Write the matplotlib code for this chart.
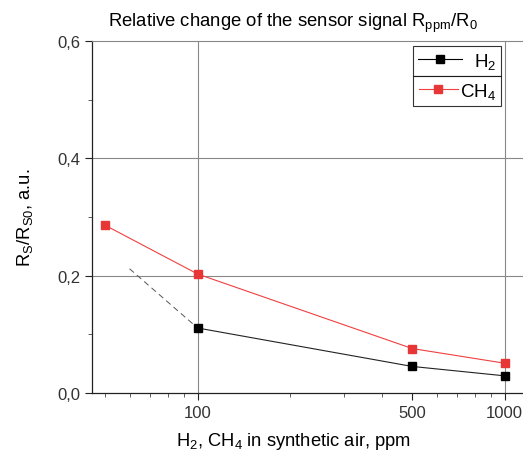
import matplotlib
matplotlib.use("Agg")
import matplotlib.pyplot as plt
from matplotlib.ticker import FixedLocator, FuncFormatter, NullFormatter
from matplotlib.lines import Line2D

plt.rcParams['font.family'] = ['Liberation Sans', 'DejaVu Sans']
plt.rcParams['mathtext.fontset'] = 'custom'
plt.rcParams['mathtext.rm'] = 'Liberation Sans'
plt.rcParams['mathtext.it'] = 'Liberation Sans'

conc_ch4 = [50, 100, 500, 1000]
ch4 = [0.286, 0.203, 0.076, 0.051]
conc_h2 = [100, 500, 1000]
h2 = [0.111, 0.0455, 0.0295]
h2_extrap_x = [60, 100]
h2_extrap_y = [0.212, 0.111]
xticks = [100, 500, 1000]
yticks = [0.0, 0.2, 0.4, 0.6]

fig = plt.figure(figsize=(5.23, 4.52), dpi=100)
ax = fig.add_axes([0.176, 0.128, 0.83, 0.779])

ax.plot(conc_ch4, ch4, color='#f04040', lw=0.8, marker='s', ms=5.3,
        mfc='#e83535', mec='#e83535', label='CH$_4$', zorder=3)
ax.plot(conc_h2, h2, color='#222222', lw=0.8, marker='s', ms=5.3,
        mfc='black', mec='black', label='H$_2$', zorder=3)
ax.plot(h2_extrap_x, h2_extrap_y, color='#555555', lw=0.7,
        ls=(0, (6, 4)), zorder=2)

ax.set_xscale('log')
ax.set_xlim(45.3, 1175)
ax.set_ylim(0, 0.6)

ax.xaxis.set_major_locator(FixedLocator(xticks))
ax.xaxis.set_major_formatter(FuncFormatter(lambda v, p: f"{int(v)}"))
ax.xaxis.set_minor_locator(FixedLocator([50, 60, 70, 80, 90, 200, 300, 400, 600, 700, 800, 900]))
ax.xaxis.set_minor_formatter(NullFormatter())
ax.yaxis.set_major_locator(FixedLocator(yticks))
ax.yaxis.set_major_formatter(FuncFormatter(lambda v, p: f"{v:.1f}".replace('.', ',')))
ax.yaxis.set_minor_locator(FixedLocator([0.1, 0.3, 0.5]))

ax.tick_params(axis='both', which='major', direction='out', length=5, width=0.8,
               color='#222222', labelsize=12, labelcolor='#333333')
ax.tick_params(axis='both', which='minor', direction='out', length=3, width=0.6,
               color='#444444')

ax.spines['right'].set_visible(False)
ax.spines['top'].set_color('#888888')
ax.spines['top'].set_linewidth(0.8)
for s in ['left', 'bottom']:
    ax.spines[s].set_color('#222222')
    ax.spines[s].set_linewidth(0.9)

for x in [100, 1000]:
    ax.axvline(x, color='#888888', lw=0.8, zorder=1)
for y in [0.2, 0.4]:
    ax.axhline(y, color='#888888', lw=0.8, zorder=1)

ax.set_title('Relative change of the sensor signal R$_{ppm}$/R$_0$', fontsize=13.3, pad=11, x=0.464)
ax.set_xlabel('H$_2$, CH$_4$ in synthetic air, ppm', fontsize=13.2, labelpad=7)
ax.xaxis.set_label_coords(0.464, -0.105)
ax.set_ylabel('R$_S$/R$_{S0}$, a.u.', fontsize=13.2, labelpad=16)

h_h2 = Line2D([], [], color='black', lw=0.8, marker='s', ms=5.3, mfc='black', mec='black')
h_ch4 = Line2D([], [], color='#f04040', lw=0.8, marker='s', ms=5.3, mfc='#e83535', mec='#e83535')
leg1 = ax.legend([h_h2], ['H$_2$'], loc='upper right', bbox_to_anchor=(0.942, 0.986),
                 frameon=True, fancybox=False, edgecolor='black', fontsize=13.5,
                 handlelength=2.35, borderpad=0.27, handletextpad=0.6, borderaxespad=0)
leg1.get_frame().set_linewidth(0.8)
ax.add_artist(leg1)
leg2 = ax.legend([h_ch4], ['CH$_4$'], loc='upper right', bbox_to_anchor=(0.942, 0.901),
                 frameon=True, fancybox=False, edgecolor='black', fontsize=13.5,
                 handlelength=2.1, borderpad=0.27, handletextpad=0.1, borderaxespad=0)
leg2.get_frame().set_linewidth(0.8)

fig.savefig('out.png', dpi=100)
